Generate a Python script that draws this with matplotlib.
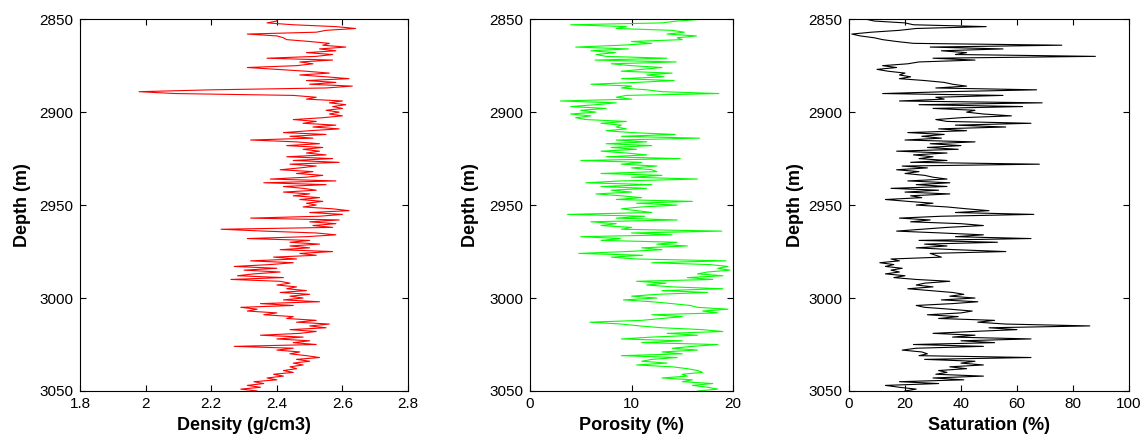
import numpy as np
import matplotlib
matplotlib.use("Agg")
import matplotlib.pyplot as plt
from matplotlib import font_manager

# ── well-log readings, one value per metre from 2850 m to 3050 m ──────────────
depth = np.linspace(2850, 3050, 201)

density = [2.40,
    2.40, 2.37, 2.45, 2.58, 2.64, 2.55, 2.52, 2.31, 2.40, 2.42,
    2.43, 2.50, 2.56, 2.54, 2.61, 2.53, 2.58, 2.49, 2.57, 2.52,
    2.37, 2.57, 2.47, 2.51, 2.46, 2.31, 2.40, 2.49, 2.56, 2.47,
    2.55, 2.62, 2.49, 2.58, 2.50, 2.63, 2.55, 2.20, 1.98, 2.09,
    2.45, 2.52, 2.49, 2.60, 2.56, 2.61, 2.57, 2.60, 2.55, 2.59,
    2.56, 2.60, 2.54, 2.45, 2.52, 2.48, 2.58, 2.51, 2.59, 2.50,
    2.42, 2.55, 2.44, 2.51, 2.32, 2.46, 2.53, 2.43, 2.54, 2.48,
    2.53, 2.49, 2.55, 2.43, 2.57, 2.45, 2.59, 2.44, 2.52, 2.47,
    2.41, 2.51, 2.46, 2.54, 2.49, 2.38, 2.58, 2.36, 2.55, 2.42,
    2.48, 2.52, 2.42, 2.50, 2.45, 2.53, 2.47, 2.54, 2.49, 2.52,
    2.48, 2.57, 2.62, 2.50, 2.60, 2.53, 2.32, 2.59, 2.50, 2.58,
    2.51, 2.57, 2.23, 2.36, 2.52, 2.58, 2.49, 2.31, 2.50, 2.44,
    2.53, 2.44, 2.50, 2.41, 2.57, 2.47, 2.52, 2.39, 2.46, 2.32,
    2.45, 2.38, 2.27, 2.40, 2.30, 2.41, 2.33, 2.28, 2.42, 2.26,
    2.41, 2.44, 2.40, 2.46, 2.43, 2.49, 2.41, 2.50, 2.44, 2.48,
    2.42, 2.53, 2.35, 2.45, 2.29, 2.34, 2.31, 2.40, 2.36, 2.45,
    2.43, 2.52, 2.46, 2.56, 2.50, 2.55, 2.44, 2.52, 2.47, 2.35,
    2.48, 2.40, 2.50, 2.45, 2.52, 2.27, 2.45, 2.40, 2.47, 2.44,
    2.49, 2.53, 2.46, 2.50, 2.45, 2.48, 2.44, 2.46, 2.42, 2.45,
    2.39, 2.42, 2.37, 2.40, 2.33, 2.36, 2.31, 2.35, 2.29, 2.34]

porosity = [17.0,
    14.5, 13.0, 4.0, 9.5, 8.5, 14.0, 15.2, 13.5, 16.4, 14.5,
    15.0, 10.0, 12.0, 9.0, 4.5, 9.7, 6.0, 8.4, 6.5, 7.5,
    13.5, 6.4, 14.4, 8.0, 10.0, 13.0, 11.0, 9.0, 14.0, 11.5,
    13.2, 9.0, 14.2, 10.5, 6.0, 10.0, 9.0, 11.5, 13.0, 18.6,
    9.5, 8.5, 10.0, 3.0, 8.5, 6.5, 4.0, 7.5, 5.0, 6.5,
    4.0, 6.0, 4.5, 5.5, 9.5, 7.0, 9.0, 8.5, 9.5, 7.5,
    10.0, 14.3, 9.0, 16.7, 8.5, 11.5, 7.5, 12.0, 8.0, 10.5,
    7.0, 9.5, 11.5, 7.5, 14.8, 5.0, 11.0, 9.0, 12.5, 10.0,
    12.0, 12.5, 7.0, 13.0, 10.0, 16.5, 9.0, 5.5, 12.0, 7.0,
    11.5, 8.0, 10.0, 6.5, 9.0, 11.0, 8.5, 16.0, 10.5, 14.5,
    11.0, 9.0, 10.5, 12.0, 3.7, 11.3, 8.5, 14.5, 6.0, 8.5,
    7.0, 10.0, 9.0, 18.9, 10.0, 14.0, 5.0, 8.9, 7.0, 14.5,
    12.5, 15.5, 11.0, 13.0, 9.5, 4.8, 11.1, 8.0, 10.5, 19.3,
    12.0, 17.7, 19.5, 18.5, 19.7, 17.5, 16.5, 19.0, 15.5, 18.0,
    10.5, 13.4, 11.5, 14.0, 19.0, 13.0, 17.5, 12.5, 10.0, 12.5,
    9.2, 12.0, 14.0, 15.8, 16.5, 19.5, 17.0, 18.5, 12.0, 15.0,
    13.0, 11.0, 5.9, 9.0, 10.8, 13.0, 17.0, 19.0, 13.5, 16.5,
    12.0, 9.0, 15.0, 11.0, 18.5, 16.0, 14.0, 16.5, 13.0, 15.0,
    9.0, 14.5, 12.0, 11.0, 13.5, 10.5, 14.0, 15.5, 16.5, 17.0,
    15.0, 15.5, 13.0, 16.0, 15.0, 18.0, 16.0, 17.5, 18.5, 16.5]

saturation = [6,
    9, 20, 23, 49, 24, 18, 8, 1, 4, 9,
    12, 17, 23, 76, 29, 55, 33, 42, 38, 88,
    30, 45, 25, 21, 12, 17, 10, 14, 20, 18,
    22, 18, 27, 34, 37, 42, 31, 67, 35, 12,
    55, 31, 34, 18, 69, 25, 62, 30, 45, 42,
    48, 58, 40, 31, 35, 65, 38, 56, 32, 42,
    21, 34, 26, 33, 20, 45, 29, 40, 28, 39,
    17, 35, 23, 30, 25, 35, 22, 68, 19, 28,
    17, 25, 20, 27, 30, 35, 21, 36, 24, 35,
    15, 32, 20, 36, 22, 26, 13, 21, 30, 24,
    35, 42, 50, 38, 66, 33, 18, 29, 22, 40,
    48, 35, 26, 17, 33, 48, 38, 65, 25, 53,
    27, 35, 24, 38, 56, 29, 31, 33, 15, 18,
    11, 16, 13, 19, 15, 18, 13, 20, 16, 24,
    36, 27, 24, 30, 21, 29, 37, 41, 36, 45,
    33, 46, 37, 24, 27, 36, 44, 40, 28, 39,
    32, 52, 46, 56, 86, 50, 60, 44, 30, 45,
    37, 65, 40, 52, 23, 48, 24, 19, 26, 28,
    25, 65, 27, 45, 40, 48, 36, 42, 32, 35,
    31, 48, 30, 41, 18, 32, 13, 18, 24, 20]

depth_ticks = [2850, 2900, 2950, 3000, 3050]
density_ticks = [1.8, 2.0, 2.2, 2.4, 2.6, 2.8]
density_labels = ["1.8", "2", "2.2", "2.4", "2.6", "2.8"]
porosity_ticks = [0, 10, 20]
saturation_ticks = [0, 20, 40, 60, 80, 100]

# ── fonts: narrow face for ticks if installed, bold sans for labels ──────────
names = {f.name for f in font_manager.fontManager.ttflist}
tick_font = "Liberation Sans Narrow" if "Liberation Sans Narrow" in names else "Liberation Sans"
plt.rcParams["font.family"] = ["Liberation Sans", "DejaVu Sans"]

fig = plt.figure(figsize=(11.45, 4.4), dpi=100)
panels = [
    # (left, width, values, colour, xlim, ticks, ticklabels, xlabel, ylabel pad)
    (0.0699, 0.2865, density, "#ff0000", (1.8, 2.8), density_ticks, density_labels, "Density (g/cm3)", 6),
    (0.4629, 0.1773, porosity, "#00ff00", (0, 20), porosity_ticks, None, "Porosity (%)", 7),
    (0.7415, 0.2445, saturation, "#000000", (0, 100), saturation_ticks, None, "Saturation (%)", 3),
]

for left, width, vals, col, xlim, xt, xtl, xlab, ypad in panels:
    ax = fig.add_axes([left, 0.1114, width, 0.845])
    ax.plot(vals, depth, color=col, linewidth=0.8)
    ax.set_xlim(*xlim)
    ax.set_ylim(3050, 2850)
    ax.set_xticks(xt)
    if xtl is not None:
        ax.set_xticklabels(xtl)
    ax.set_yticks(depth_ticks)
    ax.tick_params(direction="in", top=True, right=True, length=4, width=0.8,
                   labelsize=11)
    ax.tick_params(axis="y", pad=5)
    ax.tick_params(axis="x", pad=4)
    for lab in ax.get_xticklabels() + ax.get_yticklabels():
        lab.set_family(tick_font)
    for sp in ax.spines.values():
        sp.set_linewidth(0.8)
    ax.set_xlabel(xlab, fontsize=13, fontweight="bold", labelpad=5)
    ax.set_ylabel("Depth (m)", fontsize=13, fontweight="bold", labelpad=ypad)

fig.savefig("out.png", dpi=100)
